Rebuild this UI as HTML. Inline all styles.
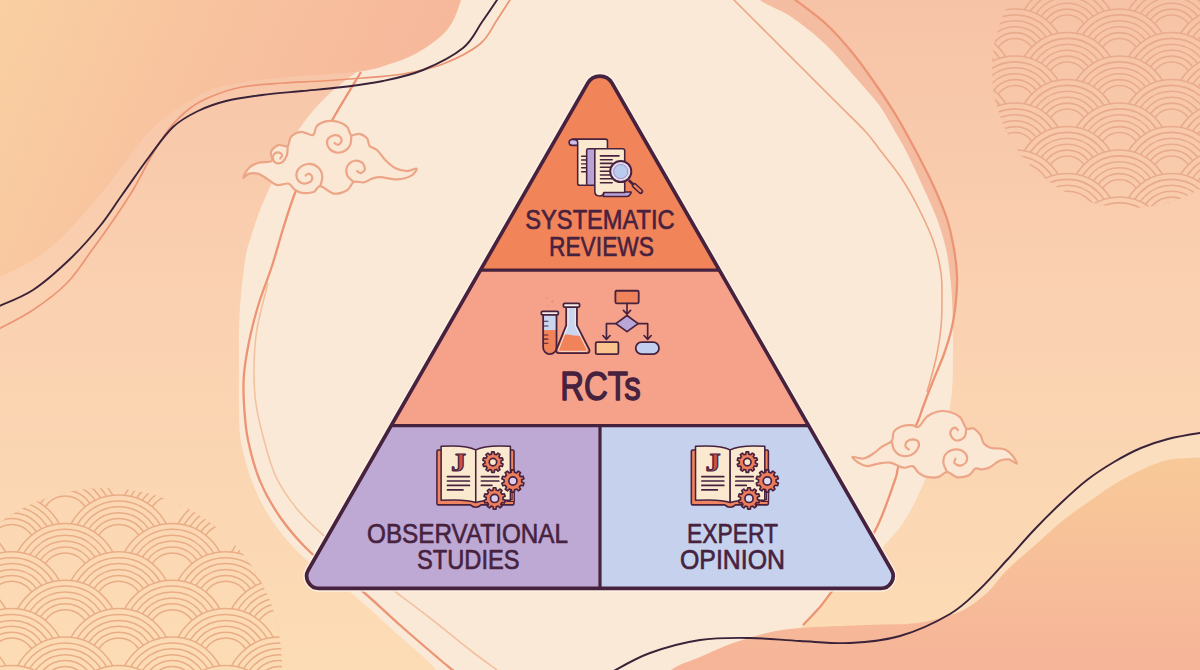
<!DOCTYPE html>
<html><head><meta charset="utf-8"><title>Evidence pyramid</title>
<style>
html,body{margin:0;padding:0;background:#f9d0b0;}
body{width:1200px;height:670px;overflow:hidden;font-family:"Liberation Sans",sans-serif;}
svg{display:block}
text{font-family:"Liberation Sans",sans-serif;}
.ser{font-family:"Liberation Serif",serif;}
</style></head><body>
<svg width="1200" height="670" viewBox="0 0 1200 670">

<defs>
<linearGradient id="gBase" x1="0" y1="0" x2="0" y2="1">
 <stop offset="0" stop-color="#f7c3a7"/><stop offset="0.45" stop-color="#fad1b1"/><stop offset="1" stop-color="#fcdcb5"/>
</linearGradient>
<linearGradient id="gBaseU" gradientUnits="userSpaceOnUse" x1="0" y1="0" x2="0" y2="670">
 <stop offset="0" stop-color="#f7c3a7"/><stop offset="0.45" stop-color="#fad1b1"/><stop offset="1" stop-color="#fcdcb5"/>
</linearGradient>
<linearGradient id="gSalmon" x1="0" y1="0.2" x2="1" y2="0.5">
 <stop offset="0" stop-color="#fad4a2"/><stop offset="0.45" stop-color="#f8c39f"/><stop offset="1" stop-color="#f6b59a"/>
</linearGradient>
<linearGradient id="gOrBR" x1="0" y1="0" x2="0" y2="1">
 <stop offset="0" stop-color="#f8cb98"/><stop offset="0.5" stop-color="#f7bd99"/><stop offset="1" stop-color="#f5ad98"/>
</linearGradient>
</defs>
<rect x="0" y="0" width="1200" height="670" fill="url(#gBase)"/>
<path d="M1230.0,430.0C1225.0,383.8 1210.3,431.5 1200.0,433.0C1189.7,434.5 1177.8,436.5 1168.0,439.0C1158.2,441.5 1150.0,444.2 1141.0,448.0C1132.0,451.8 1123.0,456.7 1114.0,462.0C1105.0,467.3 1095.8,473.2 1087.0,480.0C1078.2,486.8 1069.8,494.7 1061.0,503.0C1052.2,511.3 1043.0,520.5 1034.0,530.0C1025.0,539.5 1016.0,550.2 1007.0,560.0C998.0,569.8 989.5,580.0 980.0,589.0C970.5,598.0 963.3,606.2 950.0,614.0C936.7,621.8 915.0,631.2 900.0,636.0C885.0,640.8 866.7,632.3 860.0,643.0C853.3,653.7 798.3,688.8 860.0,700.0C921.7,711.2 1168.3,755.0 1230.0,710.0C1291.7,665.0 1235.0,476.2 1230.0,430.0Z" fill="#fbdebd"/>
<path d="M750.0,-10.0C751.7,-8.3 753.3,-4.3 760.0,0.0C766.7,4.3 779.2,8.7 790.0,16.0C800.8,23.3 814.2,33.8 825.0,44.0C835.8,54.2 846.0,66.8 855.0,77.0C864.0,87.2 872.7,96.5 879.0,105.0C885.3,113.5 888.3,120.0 893.0,128.0C897.7,136.0 902.0,143.2 907.0,153.0C912.0,162.8 918.0,176.0 923.0,187.0C928.0,198.0 933.2,208.7 937.0,219.0C940.8,229.3 943.8,239.5 946.0,249.0C948.2,258.5 949.0,267.5 950.0,276.0C951.0,284.5 951.5,291.0 952.0,300.0C952.5,309.0 952.8,325.0 953.0,330.0L950.0,330.0C951.0,325.0 954.8,309.0 956.0,300.0C957.2,291.0 957.3,284.5 957.0,276.0C956.7,267.5 955.7,258.5 954.0,249.0C952.3,239.5 950.3,229.3 947.0,219.0C943.7,208.7 938.8,197.7 934.0,187.0C929.2,176.3 924.2,166.7 918.0,155.0C911.8,143.3 904.3,129.2 897.0,117.0C889.7,104.8 881.7,93.0 874.0,82.0C866.3,71.0 859.2,60.8 851.0,51.0C842.8,41.2 835.2,32.2 825.0,23.0C814.8,13.8 797.5,1.8 790.0,-4.0C782.5,-9.8 781.7,-10.7 780.0,-12.0Z" fill="#f4bda2"/>
<path d="M459.0,-8.0C485.7,-25.5 521.5,-49.7 560.0,-60.0C598.5,-70.3 660.8,-75.8 690.0,-70.0C719.2,-64.2 723.3,-36.7 735.0,-25.0C746.7,-13.3 750.8,-6.8 760.0,0.0C769.2,6.8 779.2,8.7 790.0,16.0C800.8,23.3 814.2,33.8 825.0,44.0C835.8,54.2 846.0,66.8 855.0,77.0C864.0,87.2 872.7,96.5 879.0,105.0C885.3,113.5 888.3,120.0 893.0,128.0C897.7,136.0 902.0,143.2 907.0,153.0C912.0,162.8 918.0,176.0 923.0,187.0C928.0,198.0 933.2,208.7 937.0,219.0C940.8,229.3 943.8,239.5 946.0,249.0C948.2,258.5 949.0,267.5 950.0,276.0C951.0,284.5 951.5,287.7 952.0,300.0C952.5,312.3 953.2,333.3 953.0,350.0C952.8,366.7 953.2,385.0 951.0,400.0C948.8,415.0 944.3,426.7 940.0,440.0C935.7,453.3 930.8,466.7 925.0,480.0C919.2,493.3 912.5,508.3 905.0,520.0C897.5,531.7 889.2,539.8 880.0,550.0C870.8,560.2 857.8,574.0 850.0,581.0C842.2,588.0 838.3,587.5 833.0,592.0C827.7,596.5 823.0,602.5 818.0,608.0C813.0,613.5 811.0,616.3 803.0,625.0C795.0,633.7 783.8,647.5 770.0,660.0C756.2,672.5 751.7,691.7 720.0,700.0C688.3,708.3 624.2,711.7 580.0,710.0C535.8,708.3 479.5,697.3 455.0,690.0C430.5,682.7 443.0,675.7 433.0,666.0C423.0,656.3 408.0,643.7 395.0,632.0C382.0,620.3 366.0,605.2 355.0,596.0C344.0,586.8 338.0,583.8 329.0,577.0C320.0,570.2 310.3,564.2 301.0,555.0C291.7,545.8 281.0,533.8 273.0,522.0C265.0,510.2 258.3,497.3 253.0,484.0C247.7,470.7 243.3,455.3 241.0,442.0C238.7,428.7 239.3,416.5 239.0,404.0C238.7,391.5 239.0,379.5 239.0,367.0C239.0,354.5 238.7,341.0 239.0,329.0C239.3,317.0 239.8,307.3 241.0,295.0C242.2,282.7 244.3,264.7 246.0,255.0C247.7,245.3 248.7,244.5 251.0,237.0C253.3,229.5 256.8,218.3 260.0,210.0C263.2,201.7 266.2,195.7 270.0,187.0C273.8,178.3 277.7,168.3 283.0,158.0C288.3,147.7 294.7,135.3 302.0,125.0C309.3,114.7 317.8,104.8 327.0,96.0C336.2,87.2 344.8,80.5 357.0,72.0C369.2,63.5 383.0,58.3 400.0,45.0C417.0,31.7 432.3,9.5 459.0,-8.0Z" fill="#fbe9d7"/>
<path d="M470.0,-40.0C496.8,-30.0 464.8,-11.7 461.0,0.0C457.2,11.7 454.3,21.2 447.0,30.0C439.7,38.8 427.0,47.2 417.0,53.0C407.0,58.8 397.0,61.8 387.0,65.0C377.0,68.2 371.5,70.2 357.0,72.0C342.5,73.8 319.5,74.2 300.0,76.0C280.5,77.8 256.7,79.8 240.0,83.0C223.3,86.2 215.0,87.0 200.0,95.0C185.0,103.0 166.7,114.3 150.0,131.0C133.3,147.7 116.7,175.5 100.0,195.0C83.3,214.5 66.7,234.3 50.0,248.0C33.3,261.7 13.3,270.8 0.0,277.0C-13.3,283.2 -23.3,337.8 -30.0,285.0C-36.7,232.2 -95.0,17.5 -40.0,-40.0C15.0,-97.5 215.0,-60.0 300.0,-60.0C385.0,-60.0 443.2,-50.0 470.0,-40.0Z" fill="url(#gSalmon)"/>
<clipPath id="clipBL"><circle cx="105" cy="665" r="177"/></clipPath>
<g clip-path="url(#clipBL)" fill="none" stroke="#e9ad86" stroke-width="1.5">
<circle cx="65.2" cy="463.3" r="53.5" fill="url(#gBaseU)"/>
<circle cx="65.2" cy="463.3" r="47.6"/>
<circle cx="65.2" cy="463.3" r="41.7"/>
<circle cx="65.2" cy="463.3" r="35.8"/>
<circle cx="65.2" cy="463.3" r="29.9"/>
<circle cx="65.2" cy="463.3" r="24"/>
<circle cx="172.2" cy="463.3" r="53.5" fill="url(#gBaseU)"/>
<circle cx="172.2" cy="463.3" r="47.6"/>
<circle cx="172.2" cy="463.3" r="41.7"/>
<circle cx="172.2" cy="463.3" r="35.8"/>
<circle cx="172.2" cy="463.3" r="29.9"/>
<circle cx="172.2" cy="463.3" r="24"/>
<circle cx="11.7" cy="491.7" r="53.5" fill="url(#gBaseU)"/>
<circle cx="11.7" cy="491.7" r="47.6"/>
<circle cx="11.7" cy="491.7" r="41.7"/>
<circle cx="11.7" cy="491.7" r="35.8"/>
<circle cx="11.7" cy="491.7" r="29.9"/>
<circle cx="11.7" cy="491.7" r="24"/>
<circle cx="118.7" cy="491.7" r="53.5" fill="url(#gBaseU)"/>
<circle cx="118.7" cy="491.7" r="47.6"/>
<circle cx="118.7" cy="491.7" r="41.7"/>
<circle cx="118.7" cy="491.7" r="35.8"/>
<circle cx="118.7" cy="491.7" r="29.9"/>
<circle cx="118.7" cy="491.7" r="24"/>
<circle cx="225.7" cy="491.7" r="53.5" fill="url(#gBaseU)"/>
<circle cx="225.7" cy="491.7" r="47.6"/>
<circle cx="225.7" cy="491.7" r="41.7"/>
<circle cx="225.7" cy="491.7" r="35.8"/>
<circle cx="225.7" cy="491.7" r="29.9"/>
<circle cx="225.7" cy="491.7" r="24"/>
<circle cx="-41.8" cy="520.1" r="53.5" fill="url(#gBaseU)"/>
<circle cx="-41.8" cy="520.1" r="47.6"/>
<circle cx="-41.8" cy="520.1" r="41.7"/>
<circle cx="-41.8" cy="520.1" r="35.8"/>
<circle cx="-41.8" cy="520.1" r="29.9"/>
<circle cx="-41.8" cy="520.1" r="24"/>
<circle cx="65.2" cy="520.1" r="53.5" fill="url(#gBaseU)"/>
<circle cx="65.2" cy="520.1" r="47.6"/>
<circle cx="65.2" cy="520.1" r="41.7"/>
<circle cx="65.2" cy="520.1" r="35.8"/>
<circle cx="65.2" cy="520.1" r="29.9"/>
<circle cx="65.2" cy="520.1" r="24"/>
<circle cx="172.2" cy="520.1" r="53.5" fill="url(#gBaseU)"/>
<circle cx="172.2" cy="520.1" r="47.6"/>
<circle cx="172.2" cy="520.1" r="41.7"/>
<circle cx="172.2" cy="520.1" r="35.8"/>
<circle cx="172.2" cy="520.1" r="29.9"/>
<circle cx="172.2" cy="520.1" r="24"/>
<circle cx="279.2" cy="520.1" r="53.5" fill="url(#gBaseU)"/>
<circle cx="279.2" cy="520.1" r="47.6"/>
<circle cx="279.2" cy="520.1" r="41.7"/>
<circle cx="279.2" cy="520.1" r="35.8"/>
<circle cx="279.2" cy="520.1" r="29.9"/>
<circle cx="279.2" cy="520.1" r="24"/>
<circle cx="11.7" cy="548.5" r="53.5" fill="url(#gBaseU)"/>
<circle cx="11.7" cy="548.5" r="47.6"/>
<circle cx="11.7" cy="548.5" r="41.7"/>
<circle cx="11.7" cy="548.5" r="35.8"/>
<circle cx="11.7" cy="548.5" r="29.9"/>
<circle cx="11.7" cy="548.5" r="24"/>
<circle cx="118.7" cy="548.5" r="53.5" fill="url(#gBaseU)"/>
<circle cx="118.7" cy="548.5" r="47.6"/>
<circle cx="118.7" cy="548.5" r="41.7"/>
<circle cx="118.7" cy="548.5" r="35.8"/>
<circle cx="118.7" cy="548.5" r="29.9"/>
<circle cx="118.7" cy="548.5" r="24"/>
<circle cx="225.7" cy="548.5" r="53.5" fill="url(#gBaseU)"/>
<circle cx="225.7" cy="548.5" r="47.6"/>
<circle cx="225.7" cy="548.5" r="41.7"/>
<circle cx="225.7" cy="548.5" r="35.8"/>
<circle cx="225.7" cy="548.5" r="29.9"/>
<circle cx="225.7" cy="548.5" r="24"/>
<circle cx="-41.8" cy="576.9" r="53.5" fill="url(#gBaseU)"/>
<circle cx="-41.8" cy="576.9" r="47.6"/>
<circle cx="-41.8" cy="576.9" r="41.7"/>
<circle cx="-41.8" cy="576.9" r="35.8"/>
<circle cx="-41.8" cy="576.9" r="29.9"/>
<circle cx="-41.8" cy="576.9" r="24"/>
<circle cx="65.2" cy="576.9" r="53.5" fill="url(#gBaseU)"/>
<circle cx="65.2" cy="576.9" r="47.6"/>
<circle cx="65.2" cy="576.9" r="41.7"/>
<circle cx="65.2" cy="576.9" r="35.8"/>
<circle cx="65.2" cy="576.9" r="29.9"/>
<circle cx="65.2" cy="576.9" r="24"/>
<circle cx="172.2" cy="576.9" r="53.5" fill="url(#gBaseU)"/>
<circle cx="172.2" cy="576.9" r="47.6"/>
<circle cx="172.2" cy="576.9" r="41.7"/>
<circle cx="172.2" cy="576.9" r="35.8"/>
<circle cx="172.2" cy="576.9" r="29.9"/>
<circle cx="172.2" cy="576.9" r="24"/>
<circle cx="279.2" cy="576.9" r="53.5" fill="url(#gBaseU)"/>
<circle cx="279.2" cy="576.9" r="47.6"/>
<circle cx="279.2" cy="576.9" r="41.7"/>
<circle cx="279.2" cy="576.9" r="35.8"/>
<circle cx="279.2" cy="576.9" r="29.9"/>
<circle cx="279.2" cy="576.9" r="24"/>
<circle cx="11.7" cy="605.3" r="53.5" fill="url(#gBaseU)"/>
<circle cx="11.7" cy="605.3" r="47.6"/>
<circle cx="11.7" cy="605.3" r="41.7"/>
<circle cx="11.7" cy="605.3" r="35.8"/>
<circle cx="11.7" cy="605.3" r="29.9"/>
<circle cx="11.7" cy="605.3" r="24"/>
<circle cx="118.7" cy="605.3" r="53.5" fill="url(#gBaseU)"/>
<circle cx="118.7" cy="605.3" r="47.6"/>
<circle cx="118.7" cy="605.3" r="41.7"/>
<circle cx="118.7" cy="605.3" r="35.8"/>
<circle cx="118.7" cy="605.3" r="29.9"/>
<circle cx="118.7" cy="605.3" r="24"/>
<circle cx="225.7" cy="605.3" r="53.5" fill="url(#gBaseU)"/>
<circle cx="225.7" cy="605.3" r="47.6"/>
<circle cx="225.7" cy="605.3" r="41.7"/>
<circle cx="225.7" cy="605.3" r="35.8"/>
<circle cx="225.7" cy="605.3" r="29.9"/>
<circle cx="225.7" cy="605.3" r="24"/>
<circle cx="-41.8" cy="633.7" r="53.5" fill="url(#gBaseU)"/>
<circle cx="-41.8" cy="633.7" r="47.6"/>
<circle cx="-41.8" cy="633.7" r="41.7"/>
<circle cx="-41.8" cy="633.7" r="35.8"/>
<circle cx="-41.8" cy="633.7" r="29.9"/>
<circle cx="-41.8" cy="633.7" r="24"/>
<circle cx="65.2" cy="633.7" r="53.5" fill="url(#gBaseU)"/>
<circle cx="65.2" cy="633.7" r="47.6"/>
<circle cx="65.2" cy="633.7" r="41.7"/>
<circle cx="65.2" cy="633.7" r="35.8"/>
<circle cx="65.2" cy="633.7" r="29.9"/>
<circle cx="65.2" cy="633.7" r="24"/>
<circle cx="172.2" cy="633.7" r="53.5" fill="url(#gBaseU)"/>
<circle cx="172.2" cy="633.7" r="47.6"/>
<circle cx="172.2" cy="633.7" r="41.7"/>
<circle cx="172.2" cy="633.7" r="35.8"/>
<circle cx="172.2" cy="633.7" r="29.9"/>
<circle cx="172.2" cy="633.7" r="24"/>
<circle cx="279.2" cy="633.7" r="53.5" fill="url(#gBaseU)"/>
<circle cx="279.2" cy="633.7" r="47.6"/>
<circle cx="279.2" cy="633.7" r="41.7"/>
<circle cx="279.2" cy="633.7" r="35.8"/>
<circle cx="279.2" cy="633.7" r="29.9"/>
<circle cx="279.2" cy="633.7" r="24"/>
<circle cx="11.7" cy="662.1" r="53.5" fill="url(#gBaseU)"/>
<circle cx="11.7" cy="662.1" r="47.6"/>
<circle cx="11.7" cy="662.1" r="41.7"/>
<circle cx="11.7" cy="662.1" r="35.8"/>
<circle cx="11.7" cy="662.1" r="29.9"/>
<circle cx="11.7" cy="662.1" r="24"/>
<circle cx="118.7" cy="662.1" r="53.5" fill="url(#gBaseU)"/>
<circle cx="118.7" cy="662.1" r="47.6"/>
<circle cx="118.7" cy="662.1" r="41.7"/>
<circle cx="118.7" cy="662.1" r="35.8"/>
<circle cx="118.7" cy="662.1" r="29.9"/>
<circle cx="118.7" cy="662.1" r="24"/>
<circle cx="225.7" cy="662.1" r="53.5" fill="url(#gBaseU)"/>
<circle cx="225.7" cy="662.1" r="47.6"/>
<circle cx="225.7" cy="662.1" r="41.7"/>
<circle cx="225.7" cy="662.1" r="35.8"/>
<circle cx="225.7" cy="662.1" r="29.9"/>
<circle cx="225.7" cy="662.1" r="24"/>
<circle cx="332.7" cy="662.1" r="53.5" fill="url(#gBaseU)"/>
<circle cx="332.7" cy="662.1" r="47.6"/>
<circle cx="332.7" cy="662.1" r="41.7"/>
<circle cx="332.7" cy="662.1" r="35.8"/>
<circle cx="332.7" cy="662.1" r="29.9"/>
<circle cx="332.7" cy="662.1" r="24"/>
<circle cx="-41.8" cy="690.5" r="53.5" fill="url(#gBaseU)"/>
<circle cx="-41.8" cy="690.5" r="47.6"/>
<circle cx="-41.8" cy="690.5" r="41.7"/>
<circle cx="-41.8" cy="690.5" r="35.8"/>
<circle cx="-41.8" cy="690.5" r="29.9"/>
<circle cx="-41.8" cy="690.5" r="24"/>
<circle cx="65.2" cy="690.5" r="53.5" fill="url(#gBaseU)"/>
<circle cx="65.2" cy="690.5" r="47.6"/>
<circle cx="65.2" cy="690.5" r="41.7"/>
<circle cx="65.2" cy="690.5" r="35.8"/>
<circle cx="65.2" cy="690.5" r="29.9"/>
<circle cx="65.2" cy="690.5" r="24"/>
<circle cx="172.2" cy="690.5" r="53.5" fill="url(#gBaseU)"/>
<circle cx="172.2" cy="690.5" r="47.6"/>
<circle cx="172.2" cy="690.5" r="41.7"/>
<circle cx="172.2" cy="690.5" r="35.8"/>
<circle cx="172.2" cy="690.5" r="29.9"/>
<circle cx="172.2" cy="690.5" r="24"/>
<circle cx="279.2" cy="690.5" r="53.5" fill="url(#gBaseU)"/>
<circle cx="279.2" cy="690.5" r="47.6"/>
<circle cx="279.2" cy="690.5" r="41.7"/>
<circle cx="279.2" cy="690.5" r="35.8"/>
<circle cx="279.2" cy="690.5" r="29.9"/>
<circle cx="279.2" cy="690.5" r="24"/>
<circle cx="11.7" cy="718.9" r="53.5" fill="url(#gBaseU)"/>
<circle cx="11.7" cy="718.9" r="47.6"/>
<circle cx="11.7" cy="718.9" r="41.7"/>
<circle cx="11.7" cy="718.9" r="35.8"/>
<circle cx="11.7" cy="718.9" r="29.9"/>
<circle cx="11.7" cy="718.9" r="24"/>
<circle cx="118.7" cy="718.9" r="53.5" fill="url(#gBaseU)"/>
<circle cx="118.7" cy="718.9" r="47.6"/>
<circle cx="118.7" cy="718.9" r="41.7"/>
<circle cx="118.7" cy="718.9" r="35.8"/>
<circle cx="118.7" cy="718.9" r="29.9"/>
<circle cx="118.7" cy="718.9" r="24"/>
<circle cx="225.7" cy="718.9" r="53.5" fill="url(#gBaseU)"/>
<circle cx="225.7" cy="718.9" r="47.6"/>
<circle cx="225.7" cy="718.9" r="41.7"/>
<circle cx="225.7" cy="718.9" r="35.8"/>
<circle cx="225.7" cy="718.9" r="29.9"/>
<circle cx="225.7" cy="718.9" r="24"/>
</g>
<clipPath id="clipTR"><circle cx="1130" cy="70" r="138"/></clipPath>
<g clip-path="url(#clipTR)" fill="none" stroke="#e9ab8d" stroke-width="1.6">
<circle cx="1067.2" cy="-58.5" r="50" fill="url(#gBaseU)"/>
<circle cx="1067.2" cy="-58.5" r="44.1"/>
<circle cx="1067.2" cy="-58.5" r="38.2"/>
<circle cx="1067.2" cy="-58.5" r="32.3"/>
<circle cx="1067.2" cy="-58.5" r="26.4"/>
<circle cx="1067.2" cy="-58.5" r="20.5"/>
<circle cx="1171.6" cy="-58.5" r="50" fill="url(#gBaseU)"/>
<circle cx="1171.6" cy="-58.5" r="44.1"/>
<circle cx="1171.6" cy="-58.5" r="38.2"/>
<circle cx="1171.6" cy="-58.5" r="32.3"/>
<circle cx="1171.6" cy="-58.5" r="26.4"/>
<circle cx="1171.6" cy="-58.5" r="20.5"/>
<circle cx="1015.0" cy="-35.0" r="50" fill="url(#gBaseU)"/>
<circle cx="1015.0" cy="-35.0" r="44.1"/>
<circle cx="1015.0" cy="-35.0" r="38.2"/>
<circle cx="1015.0" cy="-35.0" r="32.3"/>
<circle cx="1015.0" cy="-35.0" r="26.4"/>
<circle cx="1015.0" cy="-35.0" r="20.5"/>
<circle cx="1119.4" cy="-35.0" r="50" fill="url(#gBaseU)"/>
<circle cx="1119.4" cy="-35.0" r="44.1"/>
<circle cx="1119.4" cy="-35.0" r="38.2"/>
<circle cx="1119.4" cy="-35.0" r="32.3"/>
<circle cx="1119.4" cy="-35.0" r="26.4"/>
<circle cx="1119.4" cy="-35.0" r="20.5"/>
<circle cx="1223.8" cy="-35.0" r="50" fill="url(#gBaseU)"/>
<circle cx="1223.8" cy="-35.0" r="44.1"/>
<circle cx="1223.8" cy="-35.0" r="38.2"/>
<circle cx="1223.8" cy="-35.0" r="32.3"/>
<circle cx="1223.8" cy="-35.0" r="26.4"/>
<circle cx="1223.8" cy="-35.0" r="20.5"/>
<circle cx="962.8" cy="-11.5" r="50" fill="url(#gBaseU)"/>
<circle cx="962.8" cy="-11.5" r="44.1"/>
<circle cx="962.8" cy="-11.5" r="38.2"/>
<circle cx="962.8" cy="-11.5" r="32.3"/>
<circle cx="962.8" cy="-11.5" r="26.4"/>
<circle cx="962.8" cy="-11.5" r="20.5"/>
<circle cx="1067.2" cy="-11.5" r="50" fill="url(#gBaseU)"/>
<circle cx="1067.2" cy="-11.5" r="44.1"/>
<circle cx="1067.2" cy="-11.5" r="38.2"/>
<circle cx="1067.2" cy="-11.5" r="32.3"/>
<circle cx="1067.2" cy="-11.5" r="26.4"/>
<circle cx="1067.2" cy="-11.5" r="20.5"/>
<circle cx="1171.6" cy="-11.5" r="50" fill="url(#gBaseU)"/>
<circle cx="1171.6" cy="-11.5" r="44.1"/>
<circle cx="1171.6" cy="-11.5" r="38.2"/>
<circle cx="1171.6" cy="-11.5" r="32.3"/>
<circle cx="1171.6" cy="-11.5" r="26.4"/>
<circle cx="1171.6" cy="-11.5" r="20.5"/>
<circle cx="1015.0" cy="12.0" r="50" fill="url(#gBaseU)"/>
<circle cx="1015.0" cy="12.0" r="44.1"/>
<circle cx="1015.0" cy="12.0" r="38.2"/>
<circle cx="1015.0" cy="12.0" r="32.3"/>
<circle cx="1015.0" cy="12.0" r="26.4"/>
<circle cx="1015.0" cy="12.0" r="20.5"/>
<circle cx="1119.4" cy="12.0" r="50" fill="url(#gBaseU)"/>
<circle cx="1119.4" cy="12.0" r="44.1"/>
<circle cx="1119.4" cy="12.0" r="38.2"/>
<circle cx="1119.4" cy="12.0" r="32.3"/>
<circle cx="1119.4" cy="12.0" r="26.4"/>
<circle cx="1119.4" cy="12.0" r="20.5"/>
<circle cx="1223.8" cy="12.0" r="50" fill="url(#gBaseU)"/>
<circle cx="1223.8" cy="12.0" r="44.1"/>
<circle cx="1223.8" cy="12.0" r="38.2"/>
<circle cx="1223.8" cy="12.0" r="32.3"/>
<circle cx="1223.8" cy="12.0" r="26.4"/>
<circle cx="1223.8" cy="12.0" r="20.5"/>
<circle cx="962.8" cy="35.5" r="50" fill="url(#gBaseU)"/>
<circle cx="962.8" cy="35.5" r="44.1"/>
<circle cx="962.8" cy="35.5" r="38.2"/>
<circle cx="962.8" cy="35.5" r="32.3"/>
<circle cx="962.8" cy="35.5" r="26.4"/>
<circle cx="962.8" cy="35.5" r="20.5"/>
<circle cx="1067.2" cy="35.5" r="50" fill="url(#gBaseU)"/>
<circle cx="1067.2" cy="35.5" r="44.1"/>
<circle cx="1067.2" cy="35.5" r="38.2"/>
<circle cx="1067.2" cy="35.5" r="32.3"/>
<circle cx="1067.2" cy="35.5" r="26.4"/>
<circle cx="1067.2" cy="35.5" r="20.5"/>
<circle cx="1171.6" cy="35.5" r="50" fill="url(#gBaseU)"/>
<circle cx="1171.6" cy="35.5" r="44.1"/>
<circle cx="1171.6" cy="35.5" r="38.2"/>
<circle cx="1171.6" cy="35.5" r="32.3"/>
<circle cx="1171.6" cy="35.5" r="26.4"/>
<circle cx="1171.6" cy="35.5" r="20.5"/>
<circle cx="1015.0" cy="59.0" r="50" fill="url(#gBaseU)"/>
<circle cx="1015.0" cy="59.0" r="44.1"/>
<circle cx="1015.0" cy="59.0" r="38.2"/>
<circle cx="1015.0" cy="59.0" r="32.3"/>
<circle cx="1015.0" cy="59.0" r="26.4"/>
<circle cx="1015.0" cy="59.0" r="20.5"/>
<circle cx="1119.4" cy="59.0" r="50" fill="url(#gBaseU)"/>
<circle cx="1119.4" cy="59.0" r="44.1"/>
<circle cx="1119.4" cy="59.0" r="38.2"/>
<circle cx="1119.4" cy="59.0" r="32.3"/>
<circle cx="1119.4" cy="59.0" r="26.4"/>
<circle cx="1119.4" cy="59.0" r="20.5"/>
<circle cx="1223.8" cy="59.0" r="50" fill="url(#gBaseU)"/>
<circle cx="1223.8" cy="59.0" r="44.1"/>
<circle cx="1223.8" cy="59.0" r="38.2"/>
<circle cx="1223.8" cy="59.0" r="32.3"/>
<circle cx="1223.8" cy="59.0" r="26.4"/>
<circle cx="1223.8" cy="59.0" r="20.5"/>
<circle cx="962.8" cy="82.5" r="50" fill="url(#gBaseU)"/>
<circle cx="962.8" cy="82.5" r="44.1"/>
<circle cx="962.8" cy="82.5" r="38.2"/>
<circle cx="962.8" cy="82.5" r="32.3"/>
<circle cx="962.8" cy="82.5" r="26.4"/>
<circle cx="962.8" cy="82.5" r="20.5"/>
<circle cx="1067.2" cy="82.5" r="50" fill="url(#gBaseU)"/>
<circle cx="1067.2" cy="82.5" r="44.1"/>
<circle cx="1067.2" cy="82.5" r="38.2"/>
<circle cx="1067.2" cy="82.5" r="32.3"/>
<circle cx="1067.2" cy="82.5" r="26.4"/>
<circle cx="1067.2" cy="82.5" r="20.5"/>
<circle cx="1171.6" cy="82.5" r="50" fill="url(#gBaseU)"/>
<circle cx="1171.6" cy="82.5" r="44.1"/>
<circle cx="1171.6" cy="82.5" r="38.2"/>
<circle cx="1171.6" cy="82.5" r="32.3"/>
<circle cx="1171.6" cy="82.5" r="26.4"/>
<circle cx="1171.6" cy="82.5" r="20.5"/>
<circle cx="1015.0" cy="106.0" r="50" fill="url(#gBaseU)"/>
<circle cx="1015.0" cy="106.0" r="44.1"/>
<circle cx="1015.0" cy="106.0" r="38.2"/>
<circle cx="1015.0" cy="106.0" r="32.3"/>
<circle cx="1015.0" cy="106.0" r="26.4"/>
<circle cx="1015.0" cy="106.0" r="20.5"/>
<circle cx="1119.4" cy="106.0" r="50" fill="url(#gBaseU)"/>
<circle cx="1119.4" cy="106.0" r="44.1"/>
<circle cx="1119.4" cy="106.0" r="38.2"/>
<circle cx="1119.4" cy="106.0" r="32.3"/>
<circle cx="1119.4" cy="106.0" r="26.4"/>
<circle cx="1119.4" cy="106.0" r="20.5"/>
<circle cx="1223.8" cy="106.0" r="50" fill="url(#gBaseU)"/>
<circle cx="1223.8" cy="106.0" r="44.1"/>
<circle cx="1223.8" cy="106.0" r="38.2"/>
<circle cx="1223.8" cy="106.0" r="32.3"/>
<circle cx="1223.8" cy="106.0" r="26.4"/>
<circle cx="1223.8" cy="106.0" r="20.5"/>
<circle cx="962.8" cy="129.5" r="50" fill="url(#gBaseU)"/>
<circle cx="962.8" cy="129.5" r="44.1"/>
<circle cx="962.8" cy="129.5" r="38.2"/>
<circle cx="962.8" cy="129.5" r="32.3"/>
<circle cx="962.8" cy="129.5" r="26.4"/>
<circle cx="962.8" cy="129.5" r="20.5"/>
<circle cx="1067.2" cy="129.5" r="50" fill="url(#gBaseU)"/>
<circle cx="1067.2" cy="129.5" r="44.1"/>
<circle cx="1067.2" cy="129.5" r="38.2"/>
<circle cx="1067.2" cy="129.5" r="32.3"/>
<circle cx="1067.2" cy="129.5" r="26.4"/>
<circle cx="1067.2" cy="129.5" r="20.5"/>
<circle cx="1171.6" cy="129.5" r="50" fill="url(#gBaseU)"/>
<circle cx="1171.6" cy="129.5" r="44.1"/>
<circle cx="1171.6" cy="129.5" r="38.2"/>
<circle cx="1171.6" cy="129.5" r="32.3"/>
<circle cx="1171.6" cy="129.5" r="26.4"/>
<circle cx="1171.6" cy="129.5" r="20.5"/>
<circle cx="1015.0" cy="153.0" r="50" fill="url(#gBaseU)"/>
<circle cx="1015.0" cy="153.0" r="44.1"/>
<circle cx="1015.0" cy="153.0" r="38.2"/>
<circle cx="1015.0" cy="153.0" r="32.3"/>
<circle cx="1015.0" cy="153.0" r="26.4"/>
<circle cx="1015.0" cy="153.0" r="20.5"/>
<circle cx="1119.4" cy="153.0" r="50" fill="url(#gBaseU)"/>
<circle cx="1119.4" cy="153.0" r="44.1"/>
<circle cx="1119.4" cy="153.0" r="38.2"/>
<circle cx="1119.4" cy="153.0" r="32.3"/>
<circle cx="1119.4" cy="153.0" r="26.4"/>
<circle cx="1119.4" cy="153.0" r="20.5"/>
<circle cx="1223.8" cy="153.0" r="50" fill="url(#gBaseU)"/>
<circle cx="1223.8" cy="153.0" r="44.1"/>
<circle cx="1223.8" cy="153.0" r="38.2"/>
<circle cx="1223.8" cy="153.0" r="32.3"/>
<circle cx="1223.8" cy="153.0" r="26.4"/>
<circle cx="1223.8" cy="153.0" r="20.5"/>
<circle cx="1067.2" cy="176.5" r="50" fill="url(#gBaseU)"/>
<circle cx="1067.2" cy="176.5" r="44.1"/>
<circle cx="1067.2" cy="176.5" r="38.2"/>
<circle cx="1067.2" cy="176.5" r="32.3"/>
<circle cx="1067.2" cy="176.5" r="26.4"/>
<circle cx="1067.2" cy="176.5" r="20.5"/>
<circle cx="1171.6" cy="176.5" r="50" fill="url(#gBaseU)"/>
<circle cx="1171.6" cy="176.5" r="44.1"/>
<circle cx="1171.6" cy="176.5" r="38.2"/>
<circle cx="1171.6" cy="176.5" r="32.3"/>
<circle cx="1171.6" cy="176.5" r="26.4"/>
<circle cx="1171.6" cy="176.5" r="20.5"/>
<circle cx="1015.0" cy="200.0" r="50" fill="url(#gBaseU)"/>
<circle cx="1015.0" cy="200.0" r="44.1"/>
<circle cx="1015.0" cy="200.0" r="38.2"/>
<circle cx="1015.0" cy="200.0" r="32.3"/>
<circle cx="1015.0" cy="200.0" r="26.4"/>
<circle cx="1015.0" cy="200.0" r="20.5"/>
<circle cx="1119.4" cy="200.0" r="50" fill="url(#gBaseU)"/>
<circle cx="1119.4" cy="200.0" r="44.1"/>
<circle cx="1119.4" cy="200.0" r="38.2"/>
<circle cx="1119.4" cy="200.0" r="32.3"/>
<circle cx="1119.4" cy="200.0" r="26.4"/>
<circle cx="1119.4" cy="200.0" r="20.5"/>
<circle cx="1223.8" cy="200.0" r="50" fill="url(#gBaseU)"/>
<circle cx="1223.8" cy="200.0" r="44.1"/>
<circle cx="1223.8" cy="200.0" r="38.2"/>
<circle cx="1223.8" cy="200.0" r="32.3"/>
<circle cx="1223.8" cy="200.0" r="26.4"/>
<circle cx="1223.8" cy="200.0" r="20.5"/>
<circle cx="1067.2" cy="223.5" r="50" fill="url(#gBaseU)"/>
<circle cx="1067.2" cy="223.5" r="44.1"/>
<circle cx="1067.2" cy="223.5" r="38.2"/>
<circle cx="1067.2" cy="223.5" r="32.3"/>
<circle cx="1067.2" cy="223.5" r="26.4"/>
<circle cx="1067.2" cy="223.5" r="20.5"/>
<circle cx="1171.6" cy="223.5" r="50" fill="url(#gBaseU)"/>
<circle cx="1171.6" cy="223.5" r="44.1"/>
<circle cx="1171.6" cy="223.5" r="38.2"/>
<circle cx="1171.6" cy="223.5" r="32.3"/>
<circle cx="1171.6" cy="223.5" r="26.4"/>
<circle cx="1171.6" cy="223.5" r="20.5"/>
<circle cx="1119.4" cy="247.0" r="50" fill="url(#gBaseU)"/>
<circle cx="1119.4" cy="247.0" r="44.1"/>
<circle cx="1119.4" cy="247.0" r="38.2"/>
<circle cx="1119.4" cy="247.0" r="32.3"/>
<circle cx="1119.4" cy="247.0" r="26.4"/>
<circle cx="1119.4" cy="247.0" r="20.5"/>
</g>
<path d="M520.0,-12.0C518.7,-10.5 515.8,-8.3 512.0,-3.0C508.2,2.3 502.3,12.2 497.0,20.0C491.7,27.8 489.0,36.7 480.0,44.0C471.0,51.3 455.8,59.0 443.0,64.0C430.2,69.0 416.3,71.7 403.0,74.0C389.7,76.3 376.5,76.8 363.0,78.0C349.5,79.2 335.5,80.2 322.0,81.0C308.5,81.8 295.3,82.0 282.0,83.0C268.7,84.0 254.0,84.7 242.0,87.0C230.0,89.3 218.8,93.3 210.0,97.0C201.2,100.7 195.8,103.7 189.0,109.0C182.2,114.3 175.2,121.3 169.0,129.0C162.8,136.7 158.0,144.8 152.0,155.0C146.0,165.2 139.7,178.8 133.0,190.0C126.3,201.2 118.8,212.0 112.0,222.0C105.2,232.0 99.5,239.8 92.0,250.0C84.5,260.2 76.8,273.0 67.0,283.0C57.2,293.0 44.7,302.2 33.0,310.0C21.3,317.8 3.0,326.7 -3.0,330.0" fill="none" stroke="#ec9473" stroke-width="1.7"/>
<path d="M361.0,72.0C356.5,79.5 342.5,102.3 334.0,117.0C325.5,131.7 316.5,147.3 310.0,160.0C303.5,172.7 299.5,181.5 295.0,193.0C290.5,204.5 286.8,216.8 283.0,229.0C279.2,241.2 276.0,253.7 272.0,266.0C268.0,278.3 262.7,291.2 259.0,303.0C255.3,314.8 252.5,325.2 250.0,337.0C247.5,348.8 245.0,362.8 244.0,374.0C243.0,385.2 243.3,393.0 244.0,404.0C244.7,415.0 245.3,427.2 248.0,440.0C250.7,452.8 254.7,468.2 260.0,481.0C265.3,493.8 272.2,505.7 280.0,517.0C287.8,528.3 297.8,539.8 307.0,549.0C316.2,558.2 326.0,565.2 335.0,572.0C344.0,578.8 350.0,581.0 361.0,590.0C372.0,599.0 388.2,614.7 401.0,626.0C413.8,637.3 429.0,650.3 438.0,658.0C447.0,665.7 452.2,669.7 455.0,672.0" fill="none" stroke="#ec9473" stroke-width="2.3"/>
<path d="M268.0,283.0C266.2,290.7 259.3,315.0 257.0,329.0C254.7,343.0 254.2,354.5 254.0,367.0C253.8,379.5 254.3,391.8 256.0,404.0C257.7,416.2 260.7,427.8 264.0,440.0C267.3,452.2 270.5,465.5 276.0,477.0C281.5,488.5 289.5,499.7 297.0,509.0C304.5,518.3 310.5,523.7 321.0,533.0C331.5,542.3 348.0,555.5 360.0,565.0C372.0,574.5 381.3,581.2 393.0,590.0C404.7,598.8 417.2,608.0 430.0,618.0C442.8,628.0 458.8,641.3 470.0,650.0C481.2,658.7 492.5,666.7 497.0,670.0" fill="none" stroke="#f2c29f" stroke-width="1.6"/>
<path d="M790.0,-4.0C795.8,0.5 814.8,13.8 825.0,23.0C835.2,32.2 842.8,41.2 851.0,51.0C859.2,60.8 866.3,71.0 874.0,82.0C881.7,93.0 889.7,104.8 897.0,117.0C904.3,129.2 911.8,143.3 918.0,155.0C924.2,166.7 929.2,176.3 934.0,187.0C938.8,197.7 943.7,208.7 947.0,219.0C950.3,229.3 952.3,239.5 954.0,249.0C955.7,258.5 956.7,267.5 957.0,276.0C957.3,284.5 956.8,291.5 956.0,300.0C955.2,308.5 954.0,318.0 952.0,327.0C950.0,336.0 947.2,345.0 944.0,354.0C940.8,363.0 936.5,372.2 933.0,381.0C929.5,389.8 925.5,400.3 923.0,407.0C920.5,413.7 920.7,414.7 918.0,421.0C915.3,427.3 910.3,437.2 907.0,445.0C903.7,452.8 900.0,462.2 898.0,468.0C896.0,473.8 898.5,470.2 895.0,480.0C891.5,489.8 884.2,512.3 877.0,527.0C869.8,541.7 859.3,557.5 852.0,568.0C844.7,578.5 838.3,583.5 833.0,590.0C827.7,596.5 825.0,601.2 820.0,607.0C815.0,612.8 805.8,622.0 803.0,625.0" fill="none" stroke="#ec9473" stroke-width="2.3"/>
<path d="M730.0,-4.0C736.2,2.2 755.0,21.0 767.0,33.0C779.0,45.0 790.3,56.3 802.0,68.0C813.7,79.7 826.5,92.5 837.0,103.0C847.5,113.5 857.8,123.2 865.0,131.0C872.2,138.8 873.8,142.0 880.0,150.0C886.2,158.0 895.3,168.8 902.0,179.0C908.7,189.2 914.7,200.3 920.0,211.0C925.3,221.7 930.5,232.7 934.0,243.0C937.5,253.3 939.7,263.5 941.0,273.0C942.3,282.5 942.0,291.0 942.0,300.0C942.0,309.0 941.8,318.0 941.0,327.0C940.2,336.0 938.7,345.5 937.0,354.0C935.3,362.5 932.7,371.7 931.0,378.0C929.3,384.3 927.7,389.7 927.0,392.0" fill="none" stroke="#eea685" stroke-width="1.6"/>
<path d="M1230.0,456.0C1225.0,413.9 1210.3,456.9 1200.0,457.6C1189.7,458.3 1177.8,457.9 1168.0,460.0C1158.2,462.1 1150.0,465.9 1141.0,470.0C1132.0,474.1 1123.0,479.0 1114.0,484.5C1105.0,490.0 1095.8,496.8 1087.0,503.0C1078.2,509.2 1069.8,514.8 1061.0,522.0C1052.2,529.2 1043.0,538.0 1034.0,546.0C1025.0,554.0 1014.7,562.3 1007.0,570.0C999.3,577.7 994.7,585.7 988.0,592.0C981.3,598.3 973.3,604.2 967.0,608.0C960.7,611.8 958.3,612.5 950.0,615.0C941.7,617.5 930.8,621.3 917.0,623.0C903.2,624.7 886.5,624.2 867.0,625.0C847.5,625.8 816.7,626.7 800.0,628.0C783.3,629.3 778.2,630.5 767.0,633.0C755.8,635.5 744.2,639.0 733.0,643.0C721.8,647.0 710.5,652.3 700.0,657.0C689.5,661.7 678.3,663.8 670.0,671.0C661.7,678.2 556.7,693.5 650.0,700.0C743.3,706.5 1133.3,750.7 1230.0,710.0C1326.7,669.3 1235.0,498.1 1230.0,456.0Z" fill="url(#gOrBR)"/>
<path d="M505.0,-12.0C504.0,-10.5 502.8,-8.7 499.0,-3.0C495.2,2.7 488.0,13.5 482.0,22.0C476.0,30.5 472.8,40.0 463.0,48.0C453.2,56.0 436.3,64.5 423.0,70.0C409.7,75.5 396.3,78.2 383.0,81.0C369.7,83.8 356.5,85.3 343.0,87.0C329.5,88.7 315.5,89.7 302.0,91.0C288.5,92.3 274.7,93.3 262.0,95.0C249.3,96.7 236.7,98.3 226.0,101.0C215.3,103.7 206.8,106.7 198.0,111.0C189.2,115.3 181.2,119.3 173.0,127.0C164.8,134.7 157.5,145.7 149.0,157.0C140.5,168.3 130.2,183.5 122.0,195.0C113.8,206.5 108.7,215.3 100.0,226.0C91.3,236.7 81.2,248.3 70.0,259.0C58.8,269.7 45.2,282.0 33.0,290.0C20.8,298.0 3.0,304.2 -3.0,307.0" fill="none" stroke="#3a2238" stroke-width="1.9"/>
<path d="M1215.0,432.0C1212.5,432.2 1207.8,431.8 1200.0,433.0C1192.2,434.2 1177.8,436.5 1168.0,439.0C1158.2,441.5 1150.0,444.2 1141.0,448.0C1132.0,451.8 1123.0,456.7 1114.0,462.0C1105.0,467.3 1095.8,473.2 1087.0,480.0C1078.2,486.8 1069.8,494.7 1061.0,503.0C1052.2,511.3 1043.0,520.5 1034.0,530.0C1025.0,539.5 1016.0,550.2 1007.0,560.0C998.0,569.8 989.5,580.0 980.0,589.0C970.5,598.0 963.3,606.2 950.0,614.0C936.7,621.8 916.7,631.2 900.0,636.0C883.3,640.8 866.7,642.2 850.0,643.0C833.3,643.8 816.7,641.8 800.0,641.0C783.3,640.2 766.7,638.2 750.0,638.0C733.3,637.8 716.7,637.5 700.0,640.0C683.3,642.5 664.7,647.7 650.0,653.0C635.3,658.3 620.3,667.5 612.0,672.0C603.7,676.5 602.0,678.7 600.0,680.0" fill="none" stroke="#3a2238" stroke-width="1.9"/>
<path d="M243.4,177.7C243.2,176.9 245.9,171.1 248.4,168.5C250.9,166.0 254.5,163.9 258.4,162.7C262.3,161.4 269.7,162.8 271.8,161.0C273.9,159.2 269.9,154.5 271.0,151.8C272.1,149.2 275.7,146.1 278.5,145.1C281.3,144.2 285.6,147.4 287.7,146.0C289.8,144.6 288.8,139.1 291.0,136.8C293.3,134.4 297.4,132.0 301.1,131.8C304.7,131.5 310.1,136.1 312.8,135.1C315.4,134.1 314.6,128.2 317.0,125.9C319.3,123.6 323.5,121.9 327.0,121.2C330.5,120.5 334.5,120.8 337.9,121.7C341.2,122.6 344.8,124.5 347.1,126.7C349.3,129.0 349.1,133.9 351.2,135.1C353.3,136.3 357.0,133.2 359.6,133.8C362.2,134.3 365.5,136.4 367.1,138.4C368.8,140.5 368.0,144.0 369.6,146.0C371.3,147.9 374.5,147.8 377.2,150.2C379.8,152.5 382.5,157.2 385.5,160.2C388.6,163.2 391.9,166.4 395.6,168.2C399.2,170.0 403.8,171.0 407.3,171.1C410.7,171.1 415.8,167.8 416.5,168.5C417.2,169.3 414.6,173.8 411.4,175.6C408.2,177.4 402.4,179.1 397.2,179.4C392.1,179.7 384.7,177.4 380.5,177.2C376.3,177.1 374.9,177.7 372.1,178.6C369.4,179.4 366.8,181.9 363.8,182.4C360.7,183.0 356.5,180.6 353.7,181.9C351.0,183.2 350.4,188.3 347.1,190.3C343.7,192.2 338.1,194.3 333.7,193.6C329.2,192.9 323.6,186.4 320.3,186.1C317.0,185.8 316.7,190.8 313.6,192.0C310.5,193.1 305.1,193.2 301.9,192.8C298.7,192.4 296.6,191.0 294.4,189.4C292.2,187.9 291.5,184.3 288.5,183.6C285.6,182.8 280.4,185.8 276.8,184.9C273.2,184.1 269.9,180.4 266.8,178.6C263.7,176.7 261.4,174.7 258.4,173.9C255.5,173.1 251.7,172.9 249.2,173.6C246.7,174.2 243.5,178.6 243.4,177.7Z" fill="#fbe8d4" stroke="#eca587" stroke-width="2.2" stroke-linejoin="round"/><path d="M351.2,135.1C351.1,136.6 351.4,141.7 350.4,144.3C349.4,146.9 347.6,149.1 345.4,150.5C343.2,151.9 339.7,152.9 337.0,152.7C334.4,152.4 331.2,150.7 329.5,148.8C327.8,146.9 326.7,143.5 327.0,141.5C327.3,139.4 329.3,137.2 331.2,136.3C333.1,135.3 336.6,134.9 338.4,135.6C340.1,136.3 341.7,138.9 341.7,140.5C341.7,142.0 339.6,144.4 338.4,144.8C337.2,145.2 335.2,143.4 334.5,143.1" fill="none" stroke="#eca587" stroke-width="2.2" stroke-linecap="round"/><path d="M287.7,146.0C287.6,147.5 287.7,152.5 286.9,155.2C286.0,157.8 284.3,160.5 282.7,161.9C281.0,163.2 278.4,163.6 276.8,163.2C275.2,162.8 273.6,160.8 273.1,159.3C272.6,157.9 272.9,155.5 273.8,154.3C274.7,153.2 277.1,152.2 278.5,152.3C279.9,152.5 281.9,154.1 282.2,155.2C282.5,156.2 280.5,158.0 280.2,158.5" fill="none" stroke="#eca587" stroke-width="2.2" stroke-linecap="round"/><path d="M320.3,186.1C320.6,184.4 322.7,179.2 322.3,176.1C321.9,172.9 320.2,169.2 317.8,167.2C315.4,165.2 310.9,163.8 307.8,164.0C304.6,164.3 300.8,166.4 298.9,168.5C297.0,170.7 296.1,174.5 296.6,176.9C297.0,179.3 299.4,182.0 301.6,182.9C303.7,183.8 307.6,183.2 309.4,182.3C311.2,181.3 312.4,178.7 312.3,177.2C312.2,175.8 310.0,173.8 308.9,173.6C307.8,173.3 306.1,175.2 305.6,175.6" fill="none" stroke="#eca587" stroke-width="2.2" stroke-linecap="round"/><path d="M353.7,181.9C352.7,180.9 348.5,178.1 347.4,175.6C346.3,173.1 346.0,169.3 347.1,166.9C348.1,164.4 351.2,161.7 353.7,161.0C356.3,160.3 360.3,161.3 362.1,162.7C363.9,164.1 365.0,167.7 364.8,169.4C364.6,171.1 362.1,172.8 360.8,173.1C359.5,173.3 357.7,171.4 357.1,171.1" fill="none" stroke="#eca587" stroke-width="2.2" stroke-linecap="round"/>
<path d="M852.5,456.9C853.4,456.2 859.9,459.1 863.4,458.5C866.9,458.0 870.4,455.5 873.4,453.5C876.5,451.6 878.7,448.9 881.8,446.8C884.9,444.7 889.8,443.5 891.8,441.0C893.8,438.5 892.2,434.2 893.8,431.8C895.5,429.3 898.9,427.4 901.9,426.3C904.9,425.2 909.1,425.0 911.9,425.1C914.7,425.2 916.1,428.2 918.6,426.8C921.1,425.4 923.9,419.2 927.0,416.7C930.0,414.2 933.4,412.6 937.0,411.7C940.6,410.9 944.8,410.7 948.7,411.7C952.6,412.7 957.5,414.8 960.4,417.6C963.3,420.4 964.0,426.6 966.3,428.4C968.5,430.3 971.4,427.3 973.8,428.4C976.1,429.6 978.8,432.6 980.5,435.1C982.1,437.6 982.1,441.4 983.8,443.5C985.5,445.6 988.0,446.8 990.5,447.7C993.0,448.5 996.4,448.2 998.9,448.5C1001.4,448.8 1003.3,448.6 1005.6,449.7C1007.8,450.8 1010.3,452.9 1012.2,455.2C1014.1,457.5 1017.5,462.9 1016.9,463.6C1016.4,464.3 1011.9,459.8 1008.9,459.4C1005.9,459.0 1001.9,459.8 998.9,461.1C995.8,462.3 993.3,465.5 990.5,466.9C987.7,468.3 984.6,469.1 982.1,469.4C979.6,469.7 977.7,467.6 975.5,468.6C973.2,469.6 971.8,473.8 968.8,475.3C965.7,476.7 960.7,477.8 957.1,477.3C953.4,476.7 950.1,472.0 947.0,471.9C944.0,471.9 942.0,476.1 938.7,476.9C935.3,477.8 930.3,477.6 927.0,476.9C923.6,476.2 921.0,474.6 918.6,472.8C916.2,470.9 915.3,466.9 912.7,466.1C910.2,465.2 907.3,468.3 903.5,467.7C899.8,467.2 894.3,463.4 890.2,462.7C886.0,462.0 882.4,463.0 878.5,463.6C874.6,464.1 870.1,466.2 866.8,466.1C863.4,465.9 860.8,464.3 858.4,462.7C856.0,461.2 851.7,457.6 852.5,456.9Z" fill="#fbe8d4" stroke="#eca587" stroke-width="2.2" stroke-linejoin="round"/><path d="M891.8,441.0C892.2,442.4 892.3,446.9 893.8,449.3C895.4,451.8 898.2,454.6 901.0,455.5C903.9,456.5 908.3,456.0 911.1,454.9C913.9,453.8 916.6,451.0 917.8,448.8C919.0,446.7 919.1,443.4 918.3,441.8C917.4,440.2 914.6,439.4 912.7,439.3C910.8,439.3 908.1,440.2 906.9,441.5C905.7,442.7 905.2,445.5 905.6,446.8C905.9,448.1 908.3,448.9 908.9,449.3" fill="none" stroke="#eca587" stroke-width="2.2" stroke-linecap="round"/><path d="M966.3,428.4C966.0,429.8 966.1,434.8 964.6,436.8C963.0,438.8 959.3,440.6 957.1,440.5C954.8,440.4 952.2,438.0 951.2,436.3C950.2,434.6 950.2,431.9 950.9,430.5C951.5,429.0 953.9,427.7 955.1,427.6C956.2,427.6 957.4,429.7 957.9,430.1" fill="none" stroke="#eca587" stroke-width="2.2" stroke-linecap="round"/><path d="M947.0,471.9C946.4,470.3 943.3,465.1 943.3,461.9C943.3,458.7 944.7,454.8 947.0,452.7C949.3,450.6 954.0,449.2 957.1,449.3C960.1,449.5 963.8,451.6 965.4,453.5C967.0,455.5 967.4,459.0 966.6,461.1C965.8,463.1 962.7,465.2 960.7,465.6C958.7,465.9 955.4,464.2 954.5,463.1C953.7,461.9 955.2,459.3 955.4,458.5" fill="none" stroke="#eca587" stroke-width="2.2" stroke-linecap="round"/>


<clipPath id="triClip"><path d="M587.76,83.15 A14,14 0 0 1 612.04,83.15 L891.48,569.98 A12.3,12.3 0 0 1 880.81,588.40 L318.99,588.40 A12.3,12.3 0 0 1 308.32,569.98 Z"/></clipPath>
<path d="M587.76,83.15 A14,14 0 0 1 612.04,83.15 L891.48,569.98 A12.3,12.3 0 0 1 880.81,588.40 L318.99,588.40 A12.3,12.3 0 0 1 308.32,569.98 Z" fill="#fdf3e6" stroke="#fdf3e6" stroke-width="6.5" stroke-linejoin="round" opacity="0.85"/>
<g clip-path="url(#triClip)">
 <rect x="280" y="50" width="640" height="220.10000000000002" fill="#f2845a"/>
 <rect x="280" y="270.1" width="640" height="155.5" fill="#f6a28a"/>
 <rect x="280" y="425.6" width="320" height="167.79999999999995" fill="#bea9d4"/>
 <rect x="600" y="425.6" width="320" height="167.79999999999995" fill="#c5d1ed"/>
 <path d="M280,270.1H920M280,425.6H920M600,425.6V600" stroke="#47223f" stroke-width="3.2" fill="none"/>
</g>
<path d="M587.76,83.15 A14,14 0 0 1 612.04,83.15 L891.48,569.98 A12.3,12.3 0 0 1 880.81,588.40 L318.99,588.40 A12.3,12.3 0 0 1 308.32,569.98 Z" fill="none" stroke="#47223f" stroke-width="3.7" stroke-linejoin="round"/>
<text x="525.3" y="229.3" font-size="27.0" textLength="149.4" lengthAdjust="spacingAndGlyphs" fill="#47223f" stroke="#47223f" stroke-width="0.65" stroke-linejoin="round">SYSTEMATIC</text>
<text x="549.0" y="256.3" font-size="27.0" textLength="105.0" lengthAdjust="spacingAndGlyphs" fill="#47223f" stroke="#47223f" stroke-width="0.65" stroke-linejoin="round">REVIEWS</text>
<text x="560.3" y="400.3" font-size="40.8" textLength="80.5" lengthAdjust="spacingAndGlyphs" fill="#47223f" stroke="#47223f" stroke-width="1.5" stroke-linejoin="round">RCTs</text>
<text x="367.0" y="543.0" font-size="26.8" textLength="201.0" lengthAdjust="spacingAndGlyphs" fill="#47223f" stroke="#47223f" stroke-width="0.65" stroke-linejoin="round">OBSERVATIONAL</text>
<text x="417.0" y="568.6" font-size="26.8" textLength="102.5" lengthAdjust="spacingAndGlyphs" fill="#47223f" stroke="#47223f" stroke-width="0.65" stroke-linejoin="round">STUDIES</text>
<text x="687.0" y="542.8" font-size="27.6" textLength="91.0" lengthAdjust="spacingAndGlyphs" fill="#47223f" stroke="#47223f" stroke-width="0.65" stroke-linejoin="round">EXPERT</text>
<text x="680.0" y="568.8" font-size="27.6" textLength="105.0" lengthAdjust="spacingAndGlyphs" fill="#47223f" stroke="#47223f" stroke-width="0.65" stroke-linejoin="round">OPINION</text><g transform="translate(562,132) scale(0.10453)" stroke-linejoin="round">
<rect x="68" y="72" width="95" height="56" rx="28" fill="#cdbfe8" stroke="#47223f" stroke-width="15"/>
<path d="M100,68 H415 Q435,68 435,88 V490 Q435,510 415,510 H170 Q150,510 150,490 V100 Q150,68 100,68Z" fill="#fbe9cf" stroke="#47223f" stroke-width="15"/>
<path d="M188,232H232M188,268H232M188,305H232M188,342H232M188,380H232" stroke="#47223f" stroke-width="14" stroke-linecap="round" fill="none"/>
<rect x="236" y="160" width="90" height="350" rx="16" fill="#b9a3d6" stroke="#47223f" stroke-width="15"/>
<path d="M400,574 H662 Q652,617 615,617 H395 Z" fill="#b9a3d6" stroke="#47223f" stroke-width="15"/>
<path d="M332,160 H580 Q600,160 600,180 V578 H400 Q395,612 360,612 Q314,612 314,570 V178 Q314,160 332,160Z" fill="#fbe9cf" stroke="#47223f" stroke-width="15"/>
<path d="M368,228H545" stroke="#47223f" stroke-width="16" stroke-linecap="round" fill="none"/>
<path d="M368,265H480M368,300H480M368,338H480M368,375H480M368,412H480M368,448H480M368,485H480" stroke="#47223f" stroke-width="15" stroke-linecap="round" fill="none"/>
<path d="M640,462 L700,520" stroke="#47223f" stroke-width="26" fill="none"/>
<path d="M692,512 L752,568" stroke="#47223f" stroke-width="50" stroke-linecap="round" fill="none"/>
<path d="M694,514 L750,566" stroke="#f08359" stroke-width="23" stroke-linecap="round" fill="none"/>
<circle cx="562" cy="378" r="101" fill="#e7dbf1" stroke="#47223f" stroke-width="19"/>
<circle cx="562" cy="378" r="68" fill="#b9ccef" stroke="#6d5590" stroke-width="5"/>
</g><g transform="translate(530,280) scale(0.11946)" stroke-linejoin="round" stroke-linecap="round">
<circle cx="145" cy="150" r="8" fill="#ee8d72"/><circle cx="187" cy="180" r="10" fill="#ee8d72"/><circle cx="150" cy="215" r="7" fill="#ee8d72"/>
<clipPath id="ttc"><path d="M110,280 V565 A56,56 0 0 0 222,565 V280Z"/></clipPath>
<g clip-path="url(#ttc)"><rect x="100" y="270" width="130" height="150" fill="#cad6ee"/><rect x="100" y="420" width="130" height="220" fill="#f08359"/></g>
<path d="M110,280 V565 A56,56 0 0 0 222,565 V280" fill="none" stroke="#47223f" stroke-width="15"/>
<path d="M116,345H150M116,385H150M116,460H150M116,495H150M116,530H150" stroke="#47223f" stroke-width="9" fill="none"/>
<rect x="95" y="262" width="142" height="30" rx="10" fill="#f7ece8" stroke="#47223f" stroke-width="15"/>
<clipPath id="flc"><path d="M303,225 V380 L222,580 Q212,612 245,612 H473 Q506,612 496,580 L393,380 V225Z"/></clipPath>
<g clip-path="url(#flc)"><rect x="200" y="200" width="320" height="430" fill="#cad6ee"/>
<path d="M200,480 Q260,445 330,458 T432,462 Q470,450 520,470 V640 H200Z" fill="#f08359"/></g>
<path d="M303,225 V380 L222,580 Q212,612 245,612 H473 Q506,612 496,580 L393,380 V225" fill="none" stroke="#47223f" stroke-width="15"/>
<path d="M318,240 V385 L240,580 Q236,597 252,597 H466 Q482,597 478,580 L378,385 V240" fill="none" stroke="#fbeee6" stroke-width="8" opacity="0.95"/>
<rect x="280" y="195" width="135" height="32" rx="10" fill="#f7ece8" stroke="#47223f" stroke-width="15"/>
<rect x="715" y="90" width="195" height="105" rx="10" fill="#f08359" stroke="#47223f" stroke-width="15"/>
<path d="M812,195 V280 M782,255 L812,285 L842,255" fill="none" stroke="#47223f" stroke-width="14"/>
<path d="M722,365 H640 V495 M610,465 L640,497 L670,465 M902,365 H985 V495 M955,465 L985,497 L1015,465" fill="none" stroke="#47223f" stroke-width="14"/>
<path d="M812,298 L905,365 L812,432 L719,365Z" fill="#b9a6d6" stroke="#47223f" stroke-width="15"/>
<rect x="550" y="520" width="190" height="100" rx="12" fill="#f9c48e" stroke="#47223f" stroke-width="15"/>
<rect x="885" y="520" width="195" height="100" rx="50" fill="#c3cfee" stroke="#47223f" stroke-width="15"/>
</g><g transform="translate(425,435) scale(0.11943)" stroke-linejoin="round" stroke-linecap="round">
<path d="M112,125 H733 Q745,125 745,137 V573 Q745,585 733,585 H470 Q450,605 425,605 Q400,605 380,585 H112 Q100,585 100,573 V137 Q100,125 112,125Z" fill="#ef8460" stroke="#47223f" stroke-width="13"/>
<path d="M738,470 V548 H690" fill="none" stroke="#47223f" stroke-width="26"/>
<path d="M738,470 V548 H690" fill="none" stroke="#ef8460" stroke-width="9"/>
<path d="M135,95 Q345,82 425,125 V565 Q345,535 135,547Z" fill="#fbe9cf" stroke="#47223f" stroke-width="13"/>
<path d="M715,95 Q505,82 425,125 V565 Q505,535 715,547Z" fill="#fbe9cf" stroke="#47223f" stroke-width="13"/>
<g transform="translate(282,302) scale(1.22,1)"><text class="ser" x="0" y="0" font-size="208" font-weight="bold" text-anchor="middle" fill="#c9543f" stroke="#47223f" stroke-width="9">J</text></g>
<path d="M188,348H372M188,385H372M188,422H372" stroke="#47223f" stroke-width="14" stroke-linecap="round" fill="none"/><path d="M188,460H318" stroke="#47223f" stroke-width="14" stroke-linecap="round" fill="none"/>
<path d="M472,348H618M472,385H618" stroke="#47223f" stroke-width="14" stroke-linecap="round" fill="none"/><path d="M472,422H560" stroke="#47223f" stroke-width="14" stroke-linecap="round" fill="none"/>
<path d="M636.5,235.1 L653.5,243.2 L647.2,262.9 L628.6,259.6 L618.8,273.2 L627.8,289.8 L611.2,302.0 L598.1,288.4 L582.1,293.7 L579.7,312.3 L559.1,312.4 L556.4,293.8 L540.4,288.6 L527.5,302.3 L510.7,290.3 L519.6,273.6 L509.7,260.1 L491.1,263.5 L484.7,243.9 L501.6,235.7 L501.5,218.9 L484.5,210.8 L490.8,191.1 L509.4,194.4 L519.2,180.8 L510.2,164.2 L526.8,152.0 L539.9,165.6 L555.9,160.3 L558.3,141.7 L578.9,141.6 L581.6,160.2 L597.6,165.4 L610.5,151.7 L627.3,163.7 L618.4,180.4 L628.3,193.9 L646.9,190.5 L653.3,210.1 L636.4,218.3Z" fill="#ee7d5b" stroke="#47223f" stroke-width="14" stroke-linejoin="round"/><circle cx="569" cy="227" r="31" fill="#fbe9cf" stroke="#47223f" stroke-width="14"/>
<path d="M809.7,393.9 L828.3,402.8 L821.4,424.2 L801.2,420.6 L790.4,435.5 L800.2,453.6 L782.1,466.9 L767.8,452.1 L750.3,457.9 L747.6,478.3 L725.1,478.4 L722.3,458.0 L704.8,452.4 L690.6,467.3 L672.3,454.2 L682.0,436.0 L671.1,421.1 L650.9,424.9 L643.8,403.5 L662.4,394.5 L662.3,376.1 L643.7,367.2 L650.6,345.8 L670.8,349.4 L681.6,334.5 L671.8,316.4 L689.9,303.1 L704.2,317.9 L721.7,312.1 L724.4,291.7 L746.9,291.6 L749.7,312.0 L767.2,317.6 L781.4,302.7 L799.7,315.8 L790.0,334.0 L800.9,348.9 L821.1,345.1 L828.2,366.5 L809.6,375.5Z" fill="#ee7d5b" stroke="#47223f" stroke-width="14" stroke-linejoin="round"/><circle cx="736" cy="385" r="34" fill="#d9cdec" stroke="#47223f" stroke-width="14"/>
<path d="M653.6,539.5 L671.4,548.0 L664.8,568.5 L645.4,565.1 L635.1,579.4 L644.5,596.7 L627.1,609.4 L613.4,595.3 L596.7,600.8 L594.1,620.3 L572.6,620.4 L569.9,600.9 L553.1,595.5 L539.5,609.8 L522.0,597.2 L531.3,579.8 L520.9,565.6 L501.5,569.2 L494.8,548.7 L512.5,540.1 L512.4,522.5 L494.6,514.0 L501.2,493.5 L520.6,496.9 L530.9,482.6 L521.5,465.3 L538.9,452.6 L552.6,466.7 L569.3,461.2 L571.9,441.7 L593.4,441.6 L596.1,461.1 L612.9,466.5 L626.5,452.2 L644.0,464.8 L634.7,482.2 L645.1,496.4 L664.5,492.8 L671.2,513.3 L653.5,521.9Z" fill="#ee7d5b" stroke="#47223f" stroke-width="14" stroke-linejoin="round"/><circle cx="583" cy="531" r="34" fill="#d9cdec" stroke="#47223f" stroke-width="14"/>
</g><g transform="translate(679.4,435) scale(0.11943)" stroke-linejoin="round" stroke-linecap="round">
<path d="M112,125 H733 Q745,125 745,137 V573 Q745,585 733,585 H470 Q450,605 425,605 Q400,605 380,585 H112 Q100,585 100,573 V137 Q100,125 112,125Z" fill="#ef8460" stroke="#47223f" stroke-width="13"/>
<path d="M738,470 V548 H690" fill="none" stroke="#47223f" stroke-width="26"/>
<path d="M738,470 V548 H690" fill="none" stroke="#ef8460" stroke-width="9"/>
<path d="M135,95 Q345,82 425,125 V565 Q345,535 135,547Z" fill="#fbe9cf" stroke="#47223f" stroke-width="13"/>
<path d="M715,95 Q505,82 425,125 V565 Q505,535 715,547Z" fill="#fbe9cf" stroke="#47223f" stroke-width="13"/>
<g transform="translate(282,302) scale(1.22,1)"><text class="ser" x="0" y="0" font-size="208" font-weight="bold" text-anchor="middle" fill="#c9543f" stroke="#47223f" stroke-width="9">J</text></g>
<path d="M188,348H372M188,385H372M188,422H372" stroke="#47223f" stroke-width="14" stroke-linecap="round" fill="none"/><path d="M188,460H318" stroke="#47223f" stroke-width="14" stroke-linecap="round" fill="none"/>
<path d="M472,348H618M472,385H618" stroke="#47223f" stroke-width="14" stroke-linecap="round" fill="none"/><path d="M472,422H560" stroke="#47223f" stroke-width="14" stroke-linecap="round" fill="none"/>
<path d="M636.5,235.1 L653.5,243.2 L647.2,262.9 L628.6,259.6 L618.8,273.2 L627.8,289.8 L611.2,302.0 L598.1,288.4 L582.1,293.7 L579.7,312.3 L559.1,312.4 L556.4,293.8 L540.4,288.6 L527.5,302.3 L510.7,290.3 L519.6,273.6 L509.7,260.1 L491.1,263.5 L484.7,243.9 L501.6,235.7 L501.5,218.9 L484.5,210.8 L490.8,191.1 L509.4,194.4 L519.2,180.8 L510.2,164.2 L526.8,152.0 L539.9,165.6 L555.9,160.3 L558.3,141.7 L578.9,141.6 L581.6,160.2 L597.6,165.4 L610.5,151.7 L627.3,163.7 L618.4,180.4 L628.3,193.9 L646.9,190.5 L653.3,210.1 L636.4,218.3Z" fill="#ee7d5b" stroke="#47223f" stroke-width="14" stroke-linejoin="round"/><circle cx="569" cy="227" r="31" fill="#fbe9cf" stroke="#47223f" stroke-width="14"/>
<path d="M809.7,393.9 L828.3,402.8 L821.4,424.2 L801.2,420.6 L790.4,435.5 L800.2,453.6 L782.1,466.9 L767.8,452.1 L750.3,457.9 L747.6,478.3 L725.1,478.4 L722.3,458.0 L704.8,452.4 L690.6,467.3 L672.3,454.2 L682.0,436.0 L671.1,421.1 L650.9,424.9 L643.8,403.5 L662.4,394.5 L662.3,376.1 L643.7,367.2 L650.6,345.8 L670.8,349.4 L681.6,334.5 L671.8,316.4 L689.9,303.1 L704.2,317.9 L721.7,312.1 L724.4,291.7 L746.9,291.6 L749.7,312.0 L767.2,317.6 L781.4,302.7 L799.7,315.8 L790.0,334.0 L800.9,348.9 L821.1,345.1 L828.2,366.5 L809.6,375.5Z" fill="#ee7d5b" stroke="#47223f" stroke-width="14" stroke-linejoin="round"/><circle cx="736" cy="385" r="34" fill="#dcdcf4" stroke="#47223f" stroke-width="14"/>
<path d="M653.6,539.5 L671.4,548.0 L664.8,568.5 L645.4,565.1 L635.1,579.4 L644.5,596.7 L627.1,609.4 L613.4,595.3 L596.7,600.8 L594.1,620.3 L572.6,620.4 L569.9,600.9 L553.1,595.5 L539.5,609.8 L522.0,597.2 L531.3,579.8 L520.9,565.6 L501.5,569.2 L494.8,548.7 L512.5,540.1 L512.4,522.5 L494.6,514.0 L501.2,493.5 L520.6,496.9 L530.9,482.6 L521.5,465.3 L538.9,452.6 L552.6,466.7 L569.3,461.2 L571.9,441.7 L593.4,441.6 L596.1,461.1 L612.9,466.5 L626.5,452.2 L644.0,464.8 L634.7,482.2 L645.1,496.4 L664.5,492.8 L671.2,513.3 L653.5,521.9Z" fill="#ee7d5b" stroke="#47223f" stroke-width="14" stroke-linejoin="round"/><circle cx="583" cy="531" r="34" fill="#dcdcf4" stroke="#47223f" stroke-width="14"/>
</g>
</svg>
</body></html>
